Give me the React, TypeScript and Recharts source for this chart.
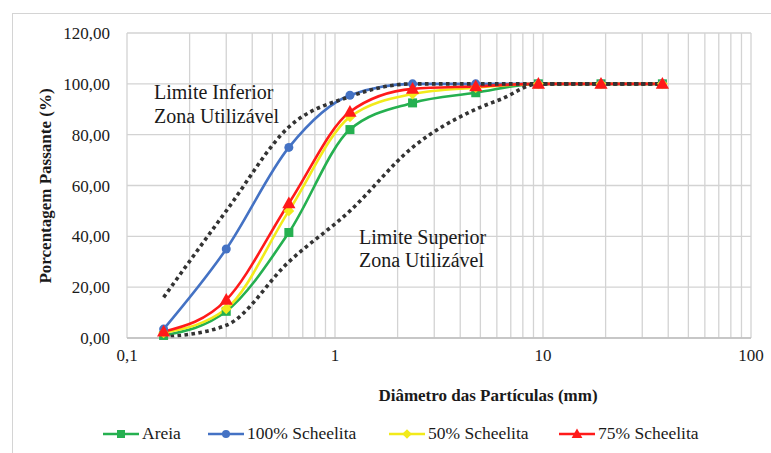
import React from "react";
import { LineChart, Line, XAxis, YAxis, CartesianGrid } from "recharts";

// Sieve openings (mm)
const sieves = [0.15, 0.3, 0.6, 1.18, 2.36, 4.75, 9.5, 19, 37.5];

// Percent passing for each mix
const areia = [1, 10.5, 41.5, 82, 92.5, 96.5, 100, 100, 100];
const scheelita100 = [3.5, 35, 75, 95.5, 100, 100, 100, 100, 100];
const scheelita50 = [2, 11.5, 50, 87, 96, 98.5, 100, 100, 100];
const scheelita75 = [2.5, 15, 53, 89, 98, 99, 100, 100, 100];

// Usable-zone limits
const lowerLimitSieves = [0.15, 0.3, 0.6, 1.18, 2.36, 4.75, 9.5, 19, 37.5];
const lowerLimit = [16, 50, 83, 95, 100, 100, 100, 100, 100];
const upperLimitSieves = [0.15, 0.3, 0.6, 1.18, 2.36, 4.75, 6.3, 9.5, 19, 37.5];
const upperLimit = [0.3, 5, 30, 50, 75, 90, 94, 100, 100, 100];

// Axis ticks
const xGridTicks = [
  0.1, 0.2, 0.3, 0.4, 0.5, 0.6, 0.7, 0.8, 0.9,
  1, 2, 3, 4, 5, 6, 7, 8, 9,
  10, 20, 30, 40, 50, 60, 70, 80, 90, 100,
];
const xDecadeTicks = [0.1, 1, 10, 100];
const xDecadeLabels = ["0,1", "1", "10", "100"];
const yTicks = [0, 20, 40, 60, 80, 100, 120];

const seriesNames = ["Areia", "100% Scheelita", "50% Scheelita", "75% Scheelita"];
const seriesColors = ["#25b050", "#4472c4", "#f2ea1a", "#ff1a1a"];
const seriesShapes = ["square", "circle", "diamond", "triangle"];
const legendLeft = [103, 208, 389, 559];

const mixRows = sieves.map((d, i) => ({
  d,
  areia: areia[i],
  s100: scheelita100[i],
  s50: scheelita50[i],
  s75: scheelita75[i],
}));
const lowerRows = lowerLimitSieves.map((d, i) => ({ d, v: lowerLimit[i] }));
const upperRows = upperLimitSieves.map((d, i) => ({ d, v: upperLimit[i] }));

const FONT = "Liberation Serif, Times New Roman, serif";

function Marker({ shape, cx, cy, color, size }: { shape: string; cx: number; cy: number; color: string; size: number }) {
  if (cx == null || cy == null) return null;
  const s = size;
  if (shape === "square")
    return <rect x={cx - s / 2} y={cy - s / 2} width={s} height={s} fill={color} />;
  if (shape === "circle") return <circle cx={cx} cy={cy} r={s / 2} fill={color} />;
  if (shape === "diamond")
    return (
      <polygon
        points={`${cx},${cy - s * 0.6} ${cx + s * 0.6},${cy} ${cx},${cy + s * 0.6} ${cx - s * 0.6},${cy}`}
        fill={color}
      />
    );
  return (
    <polygon
      points={`${cx},${cy - s * 0.62} ${cx + s * 0.6},${cy + s * 0.45} ${cx - s * 0.6},${cy + s * 0.45}`}
      fill={color}
    />
  );
}

const makeDot = (idx: number) => (props: any) => (
  <Marker
    key={`${idx}-${props.index}`}
    shape={seriesShapes[idx]}
    cx={props.cx}
    cy={props.cy}
    color={seriesColors[idx]}
    size={idx === 3 ? 11 : 9}
  />
);

const xFormat = (v: number) => {
  const i = xDecadeTicks.indexOf(v);
  return i >= 0 ? xDecadeLabels[i] : "";
};
const yFormat = (v: number) => v.toFixed(2).replace(".", ",");

const seriesKeys = ["areia", "s100", "s50", "s75"];

export default function App() {
  return (
    <div style={{ position: "absolute", left: 0, top: 0, width: 771, height: 453, background: "#fff", overflow: "hidden", fontFamily: FONT }}>
      <div
        style={{
          position: "absolute",
          left: 12,
          top: 13,
          width: 800,
          height: 500,
          borderLeft: "1.5px solid #d4d4d4",
          borderTop: "1.5px solid #d4d4d4",
        }}
      />
      <div style={{ position: "absolute", left: 0, top: 0 }}>
        <LineChart width={771} height={453} margin={{ top: 33, right: 20, bottom: 0, left: 0 }}>
          <CartesianGrid stroke="#d3d3d3" strokeWidth={1.3} />
          <XAxis
            dataKey="d"
            type="number"
            scale="log"
            domain={[0.1, 100]}
            ticks={xGridTicks}
            tickFormatter={xFormat}
            interval={0}
            allowDataOverflow
            height={115}
            tickLine={false}
            tickSize={0}
            tickMargin={11}
            axisLine={{ stroke: "#bfbfbf", strokeWidth: 1.5 }}
            tick={{ fill: "#1a1a1a", fontSize: 17, fontFamily: FONT }}
          />
          <YAxis
            type="number"
            domain={[0, 120]}
            ticks={yTicks}
            tickFormatter={yFormat}
            interval={0}
            width={127}
            tickLine={false}
            tickSize={0}
            tickMargin={17}
            axisLine={false}
            tick={{ fill: "#1a1a1a", fontSize: 17, fontFamily: FONT }}
          />
          {seriesKeys.map((k, i) => (
            <Line
              key={k}
              data={mixRows}
              dataKey={k}
              type="monotone"
              stroke={seriesColors[i]}
              strokeWidth={2.6}
              dot={makeDot(i)}
              activeDot={false}
              isAnimationActive={false}
            />
          ))}
          <Line
            data={lowerRows}
            dataKey="v"
            type="monotone"
            stroke="#333333"
            strokeWidth={3.6}
            strokeDasharray="3.6 3.4"
            dot={false}
            activeDot={false}
            isAnimationActive={false}
          />
          <Line
            data={upperRows}
            dataKey="v"
            type="monotone"
            stroke="#333333"
            strokeWidth={3.6}
            strokeDasharray="3.6 3.4"
            dot={false}
            activeDot={false}
            isAnimationActive={false}
          />
        </LineChart>
      </div>
      <svg
        width={771}
        height={453}
        style={{ position: "absolute", left: 0, top: 0, pointerEvents: "none" }}
        fontFamily={FONT}
      >
        <text x={154} y={99} fontSize={20} fill="#1a1a1a">Limite Inferior</text>
        <text x={154} y={123} fontSize={20} fill="#1a1a1a">Zona Utilizável</text>
        <text x={359} y={244} fontSize={20} fill="#1a1a1a">Limite Superior</text>
        <text x={359} y={267} fontSize={20} fill="#1a1a1a">Zona Utilizável</text>
        <text x={488} y={401} fontSize={17} fontWeight="bold" textAnchor="middle" fill="#1a1a1a">
          Diâmetro das Partículas (mm)
        </text>
        <text
          x={0}
          y={0}
          fontSize={17}
          fontWeight="bold"
          textAnchor="middle"
          fill="#1a1a1a"
          transform="translate(51,186) rotate(-90)"
        >
          Porcentagem Passante (%)
        </text>
      </svg>
      {seriesNames.map((name, i) => (
        <div
          key={name}
          style={{
            position: "absolute",
            left: legendLeft[i],
            top: 423,
            display: "flex",
            alignItems: "center",
            fontSize: 17.5,
            color: "#1a1a1a",
            whiteSpace: "nowrap",
          }}
        >
          <svg width={36} height={18} style={{ marginRight: 3 }}>
            <line x1={0} y1={9} x2={36} y2={9} stroke={seriesColors[i]} strokeWidth={2.6} />
            <Marker shape={seriesShapes[i]} cx={18} cy={9} color={seriesColors[i]} size={i === 3 ? 9 : 8} />
          </svg>
          <span>{name}</span>
        </div>
      ))}
    </div>
  );
}
